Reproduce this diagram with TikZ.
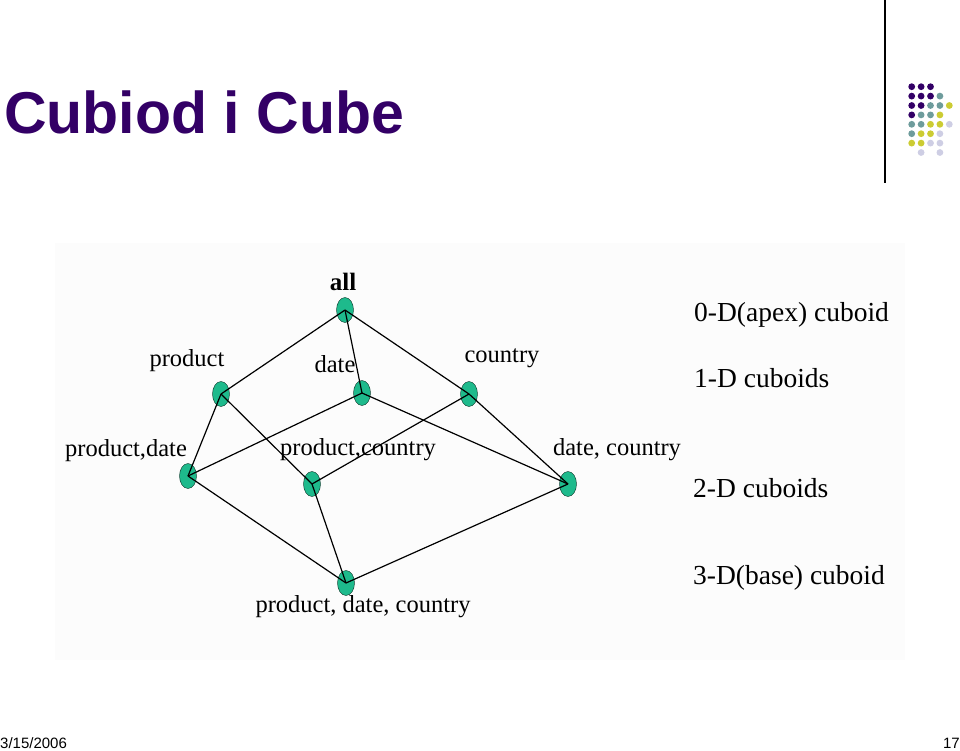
\documentclass[tikz,border=0pt]{standalone}
\usepackage{fontspec}
\setmainfont{Liberation Serif}
\newfontfamily\arialfont{Liberation Sans}
\usetikzlibrary{shapes.geometric}
\definecolor{titlepurple}{RGB}{51,0,102}
\definecolor{nodegreen}{RGB}{30,186,140}
\definecolor{dotteal}{RGB}{110,156,156}
\definecolor{dotyellow}{RGB}{204,204,51}
\definecolor{dotlav}{RGB}{206,206,228}

\begin{document}
\begin{tikzpicture}[x=1pt,y=-1pt,
  cuboid/.style={ellipse,draw=black!75!nodegreen,fill=nodegreen,minimum width=17pt,minimum height=25pt,inner sep=0pt},
  lbl/.style={anchor=base,inner sep=0pt,font=\fontsize{24.5}{26}\selectfont},
  side/.style={anchor=base west,inner sep=0pt,font=\fontsize{27.5}{29}\selectfont},
  link/.style={line width=1.2pt}]
\useasboundingbox (0,0) rectangle (960,750);
% Title and slide decoration
\node[anchor=base west,inner sep=0pt,text=titlepurple,font=\arialfont\bfseries\fontsize{59}{61}\selectfont] (title) at (4,133) {Cubiod i Cube};
\coordinate (R1) at (885,0);
\coordinate (R2) at (885,183);
\draw[line width=1.5pt] (R1) -- (R2);
\foreach \c/\r/\col in {0/0/titlepurple,1/0/titlepurple,2/0/titlepurple,
  0/1/titlepurple,1/1/titlepurple,2/1/titlepurple,3/1/dotteal,
  0/2/titlepurple,1/2/titlepurple,2/2/dotteal,3/2/dotteal,4/2/dotyellow,
  0/3/titlepurple,1/3/dotteal,2/3/dotteal,3/3/dotyellow,
  0/4/dotteal,1/4/dotteal,2/4/dotyellow,3/4/dotyellow,4/4/dotlav,
  0/5/dotteal,1/5/dotyellow,2/5/dotyellow,3/5/dotlav,
  0/6/dotyellow,1/6/dotyellow,2/6/dotlav,3/6/dotlav,
  1/7/dotlav,3/7/dotlav}
  \fill[\col] (911.7+9.4*\c,86.7+9.4*\r) circle (3.4pt);
% Figure background
\fill[black!1] (55,243) rectangle (905,660);
% Cuboid nodes
\node[cuboid] (A) at (345,310) {};
\node[cuboid] (P) at (221,394) {};
\node[cuboid] (D) at (362,393) {};
\node[cuboid] (C) at (469,394) {};
\node[cuboid] (PD) at (188,476) {};
\node[cuboid] (PC) at (312,484) {};
\node[cuboid] (DC) at (568,484) {};
\node[cuboid] (PDC) at (346,583) {};
% Connect lattice
\draw[link] (A.center) -- (P.center);
\draw[link] (A.center) -- (D.center);
\draw[link] (A.center) -- (C.center);
\draw[link] (P.center) -- (PD.center);
\draw[link] (P.center) -- (PC.center);
\draw[link] (D.center) -- (PD.center);
\draw[link] (D.center) -- (DC.center);
\draw[link] (C.center) -- (PC.center);
\draw[link] (C.center) -- (DC.center);
\draw[link] (PD.center) -- (PDC.center);
\draw[link] (PC.center) -- (PDC.center);
\draw[link] (DC.center) -- (PDC.center);
% Labels
\node[lbl,font=\bfseries\fontsize{25}{27}\selectfont] (lA) at (343,290) {all};
\node[lbl] (lP) at (187,366) {product};
\node[lbl] (lD) at (335,372) {date};
\node[lbl] (lC) at (502,362) {country};
\node[lbl] (lPD) at (126,456) {product,date};
\node[lbl] (lPC) at (358,455) {product,country};
\node[lbl] (lDC) at (617,455) {date, country};
\node[lbl] (lPDC) at (363,612) {product, date, country};
% Levels
\node[side] (s0) at (694,321) {0-D(apex) cuboid};
\node[side] (s1) at (694,387) {1-D cuboids};
\node[side] (s2) at (693,497) {2-D cuboids};
\node[side] (s3) at (693,584) {3-D(base) cuboid};
% Footer
\node[anchor=base west,inner sep=0pt,font=\arialfont\fontsize{15}{16}\selectfont] (day) at (0,748) {3/15/2006};
\node[anchor=base east,inner sep=0pt,font=\arialfont\fontsize{15}{16}\selectfont] (page) at (960,748) {17};
\end{tikzpicture}
\end{document}
